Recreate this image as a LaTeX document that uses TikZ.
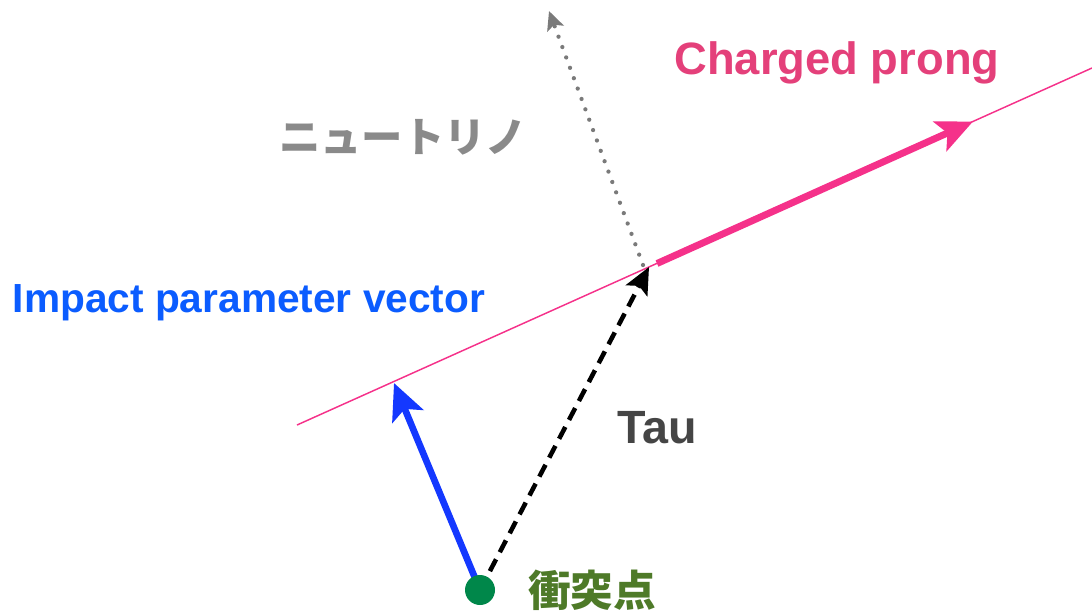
\documentclass[tikz,border=0pt]{standalone}
\usepackage{fontspec}
\setmainfont{Liberation Sans}
\newfontfamily\cjk{Noto Sans CJK JP}
\usetikzlibrary{arrows.meta}
\definecolor{prongpink}{HTML}{F5318A}
\definecolor{prongtext}{HTML}{E4407A}
\definecolor{ipblue}{HTML}{1438FF}
\definecolor{iptext}{HTML}{0B5CFF}
\definecolor{nugray}{HTML}{8A8A8A}
\definecolor{nudot}{HTML}{7A7A7A}
\definecolor{tautext}{HTML}{454545}
\definecolor{dotgreen}{HTML}{00874A}
\definecolor{jptext}{HTML}{4E7A28}
\tikzset{
  lbl/.style={font=\bfseries, inner sep=0pt, anchor=center},
  prongthin/.style={draw=prongpink, line width=1.1pt},
  prongthick/.style={draw=prongpink, line width=5.2pt, -{Stealth[length=27pt,width=24pt,inset=6pt]}},
  iparrow/.style={draw=ipblue, line width=5pt, -{Stealth[length=27pt,width=25pt,inset=6pt]}},
  tauarrow/.style={draw=black, line width=3.4pt, dash pattern=on 10pt off 6pt, -{Stealth[length=20pt,width=18pt,inset=4pt]}},
  nuarrow/.style={draw=nudot, line width=3.2pt, line cap=round, dash pattern=on 0pt off 8.3pt, -{Stealth[length=14pt,width=13pt,inset=3pt]}},
}
\begin{document}
\begin{tikzpicture}[x=0.75pt,y=-0.75pt]
\useasboundingbox (0,0) rectangle (1092,612);
% coordinates
\coordinate (lineA) at (297,425);
\coordinate (lineB) at (1092,68);
\coordinate (ip) at (480,590);
\coordinate (decay) at (649,267);
\coordinate (thickstart) at (657,263.5);
\coordinate (prongtip) at (973,121.5);
\coordinate (iptip) at (394,383);
\coordinate (nustart) at (643,265);
\coordinate (nutip) at (549,11);
% track line
\draw[prongthin] (lineA) -- (lineB);
\draw[prongthick] (thickstart) -- (prongtip);
% neutrino
\draw[nuarrow] (nustart) -- (nutip);
% tau
\draw[tauarrow] (ip) -- (decay);
% impact parameter
\draw[iparrow] (ip) -- (iptip);
% interaction point
\fill[dotgreen] (ip) circle (15);
% labels
\node[lbl, text=prongtext, font=\bfseries\fontsize{34}{38}\selectfont] (lprong) at (837,63) {Charged prong};
\node[lbl, text=iptext, font=\bfseries\fontsize{30.5}{34}\selectfont] (lip) at (249,303) {Impact parameter vector};
\node[lbl, text=nugray, font=\cjk\bfseries\fontsize{31}{34}\selectfont] (lnu) at (403,137) {ニュートリノ};
\node[lbl, text=tautext, font=\bfseries\fontsize{35}{38}\selectfont] (ltau) at (657,428) {Tau};
\node[lbl, text=jptext, font=\cjk\bfseries\fontsize{32}{36}\selectfont] (lip2) at (592,590) {衝突点};
\end{tikzpicture}
\end{document}
